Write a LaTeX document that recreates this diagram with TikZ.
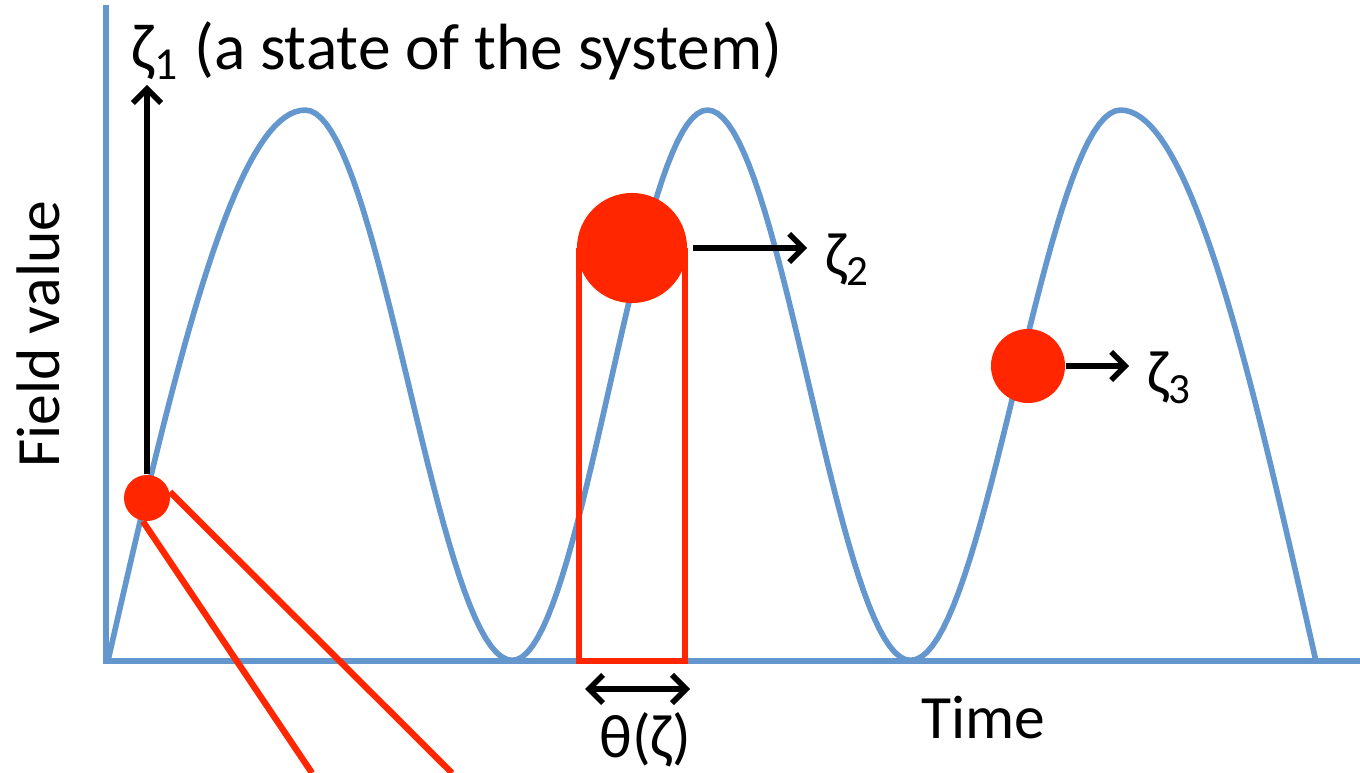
\documentclass[tikz,border=0pt]{standalone}
\usepackage{fontspec}
\setmainfont{Carlito}
\usetikzlibrary{arrows.meta, positioning, calc}
\definecolor{axisblue}{RGB}{99,151,205}
\definecolor{dotred}{RGB}{255,38,0}

\begin{document}
\begin{tikzpicture}[x=0.01cm, y=-0.01cm,
    wave/.style={axisblue, line width=1.6pt},
    dot/.style={circle, fill=dotred, inner sep=0pt},
    redline/.style={dotred, line width=1.8pt},
    arrow/.style={-{Straight Barb[length=4pt, width=8pt]}, line width=1.6pt},
    dblarrow/.style={{Straight Barb[length=4pt, width=8pt]}-{Straight Barb[length=4pt, width=8pt]}, line width=1.6pt},
    lbl/.style={font=\fontsize{17.5}{21}\selectfont, inner sep=0pt}
]
    \useasboundingbox (0,0) rectangle (1360,773);

    % axes and field curve
    \draw[wave] (106,5) -- (106,661) -- (1360,661);
    \begin{scope}[x=1cm, y=-1cm]
    \draw[wave, line join=round]
        plot[domain=1.08:3.05, samples=40] (\x, {6.60-5.50*sin(90*(\x-1.08)/1.97)})
        -- plot[domain=3.05:5.12, samples=40] (\x, {6.60-2.75*(1+cos(180*(\x-3.05)/2.07))})
        -- plot[domain=5.12:7.07, samples=40] (\x, {6.60-2.75*(1-cos(180*(\x-5.12)/1.95))})
        -- plot[domain=7.07:9.10, samples=40] (\x, {6.60-2.75*(1+cos(180*(\x-7.07)/2.03))})
        -- plot[domain=9.10:11.20, samples=40] (\x, {6.60-2.75*(1-cos(180*(\x-9.10)/2.10))})
        -- plot[domain=11.20:13.15, samples=40] (\x, {6.60-5.50*cos(90*(\x-11.20)/1.95)});
    \end{scope}

    % window of the second state
    \draw[redline] (579,248) -- (579,661) -- (685,661) -- (685,248);

    \node[dot, minimum size=0.46cm] (s1) at (147,498) {};
    \node[dot, minimum size=1.10cm] (s2) at (632,248) {};
    \node[dot, minimum size=0.74cm] (s3) at (1028,366) {};

    \coordinate (c1) at (312,773);
    \coordinate (c2) at (452,773);
    \draw[redline] (s1.-100) -- (c1);
    \draw[redline] (s1.15) -- (c2);

    % labels
    \node[lbl, font=\fontsize{18.6}{22}\selectfont, anchor=base west] (z1) at (131,70) {ζ\textsubscript{1} (a state of the system)};
    \node[lbl] (z2) at (848,260) {ζ\textsubscript{2}};
    \node[lbl] (z3) at (1170,378) {ζ\textsubscript{3}};
    \node[lbl] (time) at (983,718) {Time};
    \node[lbl, rotate=90] (field) at (38,334) {Field value};
    \node[lbl] (theta) at (645,740) {θ(ζ)};

    \coordinate (top) at (147,85);
    \coordinate (tl) at (585,689);
    \coordinate (tr) at (690,689);

    \draw[arrow] (s1.north) -- (top);
    \draw[arrow, shorten <=1.5pt, shorten >=5pt] (s2.east) -- (s2.east -| z2.west);
    \draw[arrow, shorten >=5pt] (s3.east) -- (s3.east -| z3.west);
    \draw[dblarrow] (tl) -- (tr);
\end{tikzpicture}
\end{document}
